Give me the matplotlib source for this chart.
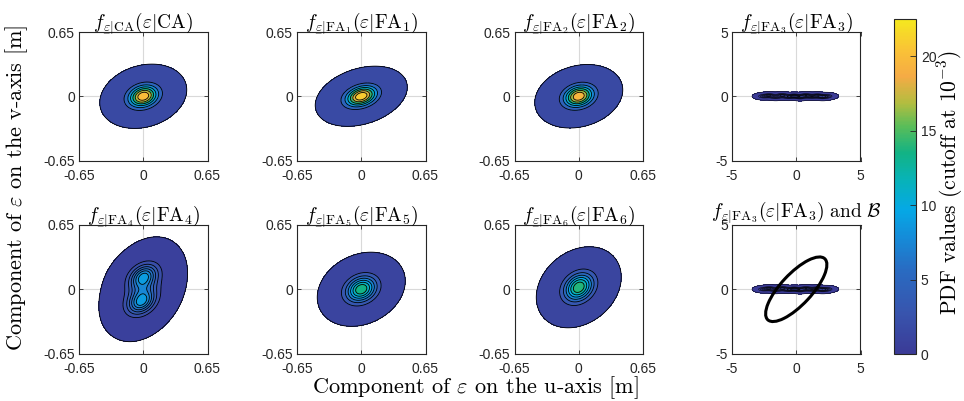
import numpy as np
import matplotlib
matplotlib.use('Agg')
import matplotlib.pyplot as plt
from matplotlib.colors import LinearSegmentedColormap, Normalize
from matplotlib.patches import Ellipse
import matplotlib.cm as cm

plt.rcParams['mathtext.fontset'] = 'cm'
plt.rcParams['axes.unicode_minus'] = False
plt.rcParams['font.family'] = ['Liberation Sans', 'DejaVu Sans']

# parula-like colormap
cb_pos = [0.0, 0.12, 0.25, 0.35, 0.43, 0.52, 0.60, 0.68, 0.75, 0.83, 0.90, 1.0]
cb_col = [(0.23, 0.23, 0.59), (0.22, 0.33, 0.68), (0.16, 0.42, 0.76), (0.08, 0.55, 0.85),
          (0.02, 0.66, 0.90), (0.03, 0.70, 0.72), (0.07, 0.70, 0.52), (0.35, 0.74, 0.35),
          (0.70, 0.74, 0.25), (0.96, 0.67, 0.27), (0.98, 0.75, 0.22), (0.96, 0.91, 0.12)]
parula = LinearSegmentedColormap.from_list('parula', list(zip(cb_pos, cb_col)))
cmax = 22.5
cutoff = 1e-3

# single-mode panels: peak, sigma_u, sigma_v, rho, mean_v
names = ['CA', 'FA_1', 'FA_2', 'FA_5', 'FA_6']
peaks = [21.5, 22.5, 21.0, 14.5, 15.0]
sig_u = [0.0985, 0.104, 0.0998, 0.1017, 0.098]
sig_v = [0.0728, 0.068, 0.072, 0.0857, 0.0935]
rhos = [0.20, 0.30, 0.20, 0.22, 0.25]
mean_v = [0.0, 0.0, 0.0, 0.0, 0.02]

# FA4: two lobes plus a central part
fa4_h = [7.0, 7.0, 4.0]
fa4_mu_u = [0.0, -0.02, 0.0]
fa4_mu_v = [0.13, -0.13, 0.0]
fa4_su = [0.09, 0.09, 0.11]
fa4_sv = [0.08, 0.08, 0.13]
fa4_rho = 0.30

# FA3: bumps along the u-axis
fa3_u = [-2.55, -2.1, -1.6, -1.1, -0.6, -0.15, 0.3, 0.75, 1.2, 1.65, 2.05, 2.4]
fa3_v = [0.0, 0.05, -0.05, 0.06, -0.04, 0.02, -0.06, 0.05, -0.03, 0.04, -0.05, 0.01]
fa3_h = [0.6, 0.9, 0.7, 1.0, 0.8, 1.1, 0.9, 1.0, 0.7, 0.9, 0.8, 0.6]
fa3_su, fa3_sv = 0.25, 0.085

# set B ellipse
b_a, b_b, b_angle = 3.25, 1.2, 47


def bump(U, V, h, mu, mv, su, sv, rho):
    du = (U - mu) / su
    dv = (V - mv) / sv
    q = (du**2 - 2 * rho * du * dv + dv**2) / (1 - rho**2)
    return h * np.exp(-0.5 * q)


def style(ax, lim, ticks, labels):
    ax.set_xlim(-lim, lim)
    ax.set_ylim(-lim, lim)
    ax.set_xticks(ticks)
    ax.set_yticks(ticks)
    ax.set_xticklabels(labels)
    ax.set_yticklabels(labels)
    ax.tick_params(direction='in', length=3, width=0.6, labelsize=10, colors='0.15',
                   top=True, right=True)
    ax.tick_params(axis='x', pad=6)
    ax.tick_params(axis='y', pad=3)
    ax.grid(True, color='0.85', lw=0.8)
    ax.set_axisbelow(True)
    for s in ax.spines.values():
        s.set_color('0.15')
        s.set_linewidth(0.8)


def draw(ax, U, V, Z, lw=0.6):
    lv = np.linspace(cutoff, Z.max(), 8)
    ax.contourf(U, V, Z, levels=lv, cmap=parula, norm=Normalize(0, cmax), zorder=2)
    ax.contour(U, V, Z, levels=lv, colors='k', linewidths=lw, zorder=3)


def title(sub):
    return (r'$f_{\underset{-}{\varepsilon}|\mathrm{%s}}(\varepsilon|\mathrm{%s})$' % (sub, sub))


fig = plt.figure(figsize=(9.64, 4.01), dpi=100)
W, H = 964, 401
lefts = [79, 297, 514.5, 732]
tops = [32, 225]
size = 128.5


def add_ax(r, c):
    return fig.add_axes([lefts[c] / W, 1 - (tops[r] + size) / H, size / W, size / H])


g = np.linspace(-0.65, 0.65, 301)
U, V = np.meshgrid(g, g)
g5 = np.linspace(-5, 5, 601)
U5, V5 = np.meshgrid(g5, g5)
small_t = [-0.65, 0, 0.65]
small_l = ['-0.65', '0', '0.65']

pos = {'CA': (0, 0), 'FA_1': (0, 1), 'FA_2': (0, 2), 'FA_5': (1, 1), 'FA_6': (1, 2)}
for i, n in enumerate(names):
    ax = add_ax(*pos[n])
    Z = bump(U, V, peaks[i], 0.0, mean_v[i], sig_u[i], sig_v[i], rhos[i])
    draw(ax, U, V, Z)
    style(ax, 0.65, small_t, small_l)
    ax.set_title(title(n), fontsize=14, pad=4)

ax = add_ax(1, 0)
Z = sum(bump(U, V, fa4_h[k], fa4_mu_u[k], fa4_mu_v[k], fa4_su[k], fa4_sv[k], fa4_rho)
        for k in range(len(fa4_h)))
draw(ax, U, V, Z)
style(ax, 0.65, small_t, small_l)
ax.set_title(title('FA_4'), fontsize=14, pad=4)

Z3 = sum(bump(U5, V5, fa3_h[k], fa3_u[k], fa3_v[k], fa3_su, fa3_sv, 0.0) for k in range(len(fa3_u)))
for r in range(2):
    ax = add_ax(r, 3)
    draw(ax, U5, V5, Z3, lw=0.35)
    style(ax, 5, [-5, 0, 5], ['-5', '0', '5'])
    if r == 0:
        ax.set_title(title('FA_3'), fontsize=14, pad=4)
    else:
        ax.add_patch(Ellipse((0, 0), 2 * b_a, 2 * b_b, angle=b_angle, fill=False,
                             ec='k', lw=2.2, zorder=4))
        ax.set_title(title('FA_3')[:-1] + r'\ \mathrm{and}\ \mathcal{B}$', fontsize=14, pad=7)

cax = fig.add_axes([894 / W, 1 - 354 / H, 22 / W, 335 / H])
cb = fig.colorbar(cm.ScalarMappable(norm=Normalize(0, cmax), cmap=parula), cax=cax)
cb.set_ticks([0, 5, 10, 15, 20])
cax.tick_params(direction='in', length=4, width=0.6, labelsize=10, colors='0.15')
cb.outline.set_edgecolor('0.15')
cb.outline.set_linewidth(0.8)
fig.text(950 / W, 1 - 183 / H, r'PDF values (cutoff at $10^{-3}$)', rotation=90,
         family='cmr10', fontsize=15.5, ha='center', va='center')

fig.text(475 / W, 1 - 388 / H, r'Component of $\varepsilon$ on the u-axis [m]',
         family='cmr10', fontsize=16, ha='center', va='center')
fig.text(17 / W, 1 - 188 / H, r'Component of $\varepsilon$ on the v-axis [m]', rotation=90,
         family='cmr10', fontsize=16, ha='center', va='center')

fig.savefig('out.png', dpi=100)
